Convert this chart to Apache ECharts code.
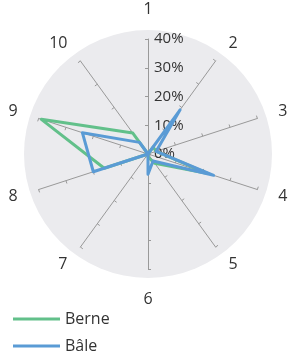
<!DOCTYPE html>
<html>
<head>
<meta charset="utf-8">
<script src="https://cdn.jsdelivr.net/npm/echarts@6/dist/echarts.min.js"></script>
<style>
  html, body { margin: 0; padding: 0; background: #fff; }
  #chart { width: 291px; height: 353px; }
</style>
</head>
<body>
<div id="chart"></div>
<script>
// axes 1..10, clockwise from the top
const axisNames = ['1', '2', '3', '4', '5', '6', '7', '8', '9', '10'];
const berne = [0, 3, 3, 22, 4, 1, 0, 16, 39, 9];
const bale = [0, 19, 3, 24, 3, 7, 0, 20, 24, 5];
const maxPct = 40;
const stepPct = 10;

const cx = 148, cy = 154, r = 115;
const FONT = "'Open Sans', 'Liberation Sans', sans-serif";

// echarts radar runs counter-clockwise, so walk the axes 1,10,9,...,2
const order = [0, 9, 8, 7, 6, 5, 4, 3, 2, 1];
const pick = arr => order.map(i => arr[i]);

const legendBase = {
  left: 8,
  icon: 'rect',
  itemWidth: 47,
  itemHeight: 3,
  textStyle: { fontSize: 16, color: '#333', fontFamily: FONT }
};

const chart = echarts.init(document.getElementById('chart'));
chart.setOption({
  animation: false,
  textStyle: { fontFamily: FONT },
  // grey disc behind the radar
  graphic: [{
    type: 'circle',
    z: -10,
    shape: { cx: cx, cy: cy, r: 124 },
    style: { fill: '#ebebee' }
  }],
  legend: [
    Object.assign({ top: 306, data: ['Berne'] }, legendBase),
    Object.assign({ top: 333, data: ['Bâle'] }, legendBase)
  ],
  radar: {
    center: [cx, cy],
    radius: r,
    startAngle: 90,
    splitNumber: maxPct / stepPct,
    nameGap: 22,
    axisName: { color: '#333', fontSize: 16, fontFamily: FONT },
    indicator: pick(axisNames).map(n => ({ name: n, min: 0, max: maxPct })),
    axisLine: { lineStyle: { color: '#999', width: 1 } },
    axisTick: { show: true, length: 3, lineStyle: { color: '#999' } },
    splitLine: { show: false },
    splitArea: { show: false }
  },
  // polar only used to print the % scale on axis 1
  polar: { center: [cx, cy], radius: r },
  angleAxis: { startAngle: 90, show: false, min: 0, max: 360 },
  radiusAxis: {
    min: 0, max: maxPct, interval: stepPct,
    axisLine: { show: false },
    axisTick: { show: false },
    splitLine: { show: false },
    axisLabel: {
      formatter: '{value}%',
      align: 'left',
      margin: -6,
      color: '#333',
      fontSize: 15,
      fontFamily: FONT
    },
    z: 1
  },
  series: [{
    type: 'radar',
    symbol: 'none',
    z: 3,
    data: [
      { name: 'Berne', value: pick(berne), lineStyle: { color: '#62c08a', width: 3 }, itemStyle: { color: '#62c08a' } },
      { name: 'Bâle', value: pick(bale), lineStyle: { color: '#5a9bd5', width: 3 }, itemStyle: { color: '#5a9bd5' } }
    ]
  }]
});
</script>
</body>
</html>
